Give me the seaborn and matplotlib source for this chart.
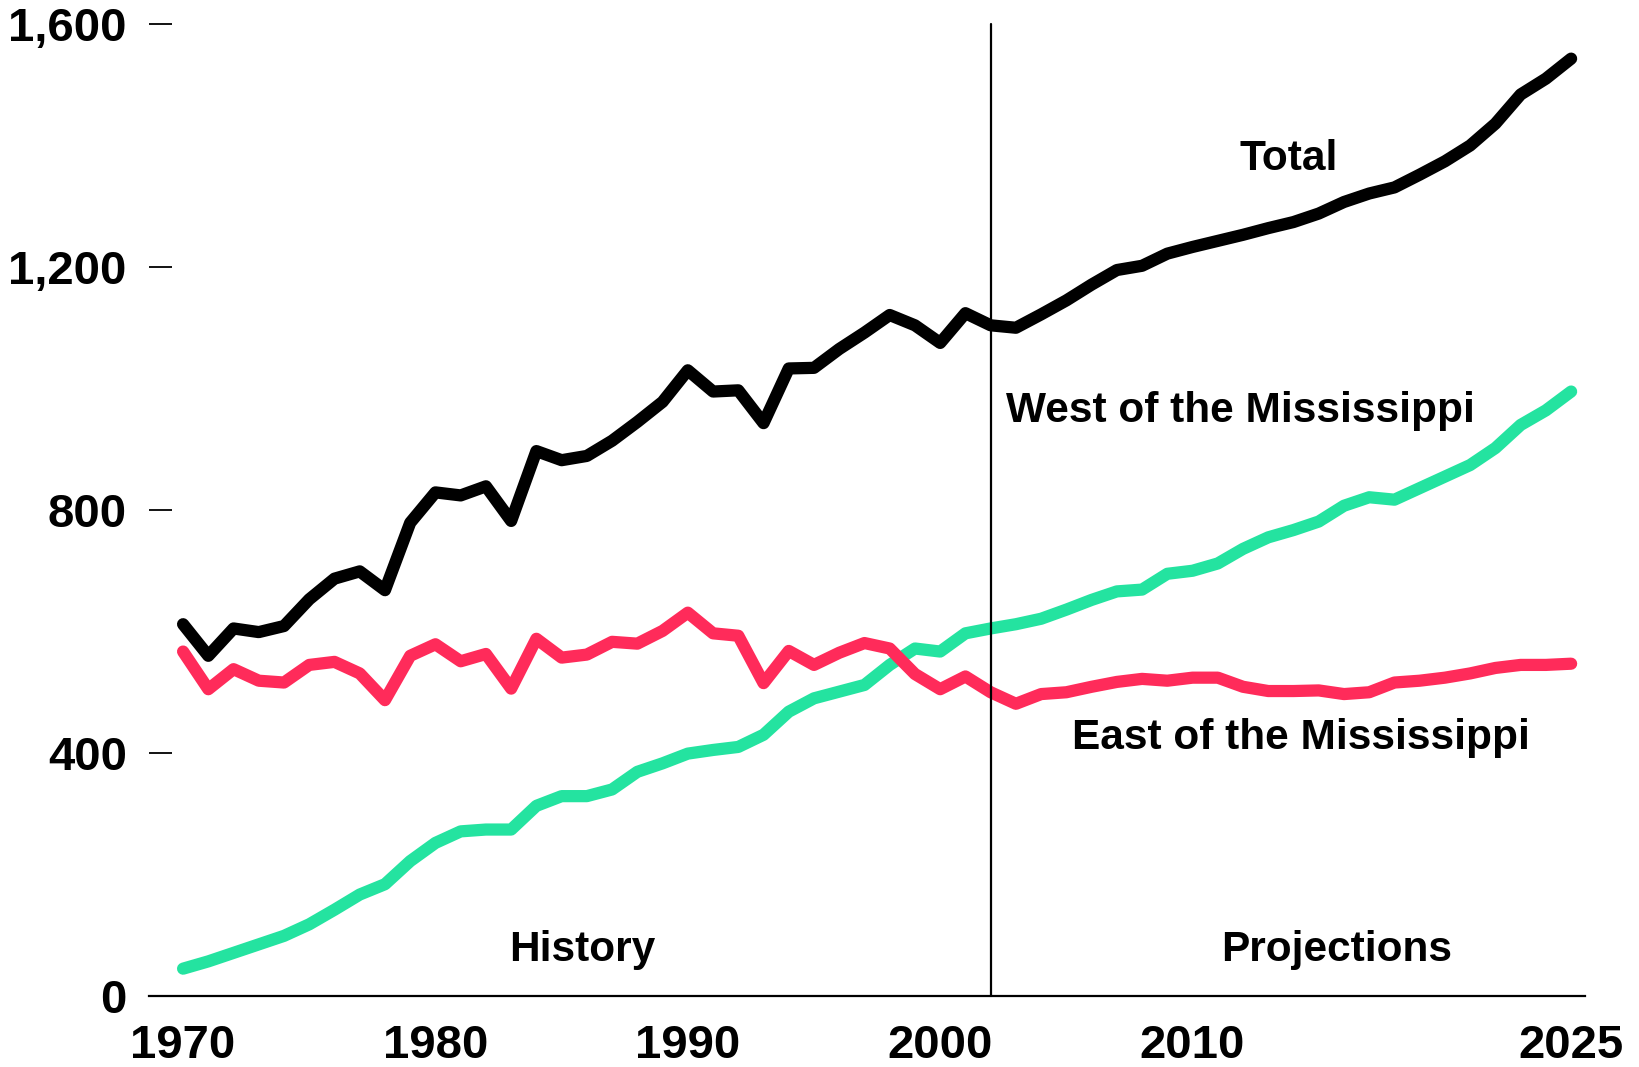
import numpy as np
import pandas as pd
import matplotlib
matplotlib.use("Agg")
import matplotlib.pyplot as plt
import seaborn as sns

years = list(range(1970, 2026))

total = [612, 560, 605, 599, 609, 653, 687, 699, 668, 779,
         829, 824, 839, 782, 897, 882, 889, 914, 945, 978,
         1030, 995, 997, 943, 1033, 1034, 1065, 1092, 1121, 1104,
         1075, 1124, 1104, 1100, 1122, 1145, 1171, 1195, 1202, 1222,
         1233, 1243, 1253, 1264, 1274, 1288, 1307, 1321, 1331, 1352,
         1374, 1400, 1436, 1484, 1510, 1543]

east = [567, 505, 538, 519, 516, 545, 550, 531, 487, 560,
        579, 551, 563, 506, 588, 557, 562, 583, 580, 601,
        631, 597, 593, 515, 568, 545, 565, 581, 572, 530,
        505, 526, 500, 481, 497, 500, 509, 517, 522, 519,
        524, 524, 509, 502, 502, 503, 497, 500, 516, 519,
        524, 531, 540, 545, 545, 547]

west = [45, 57, 71, 85, 99, 118, 142, 167, 184, 222,
        252, 271, 274, 274, 313, 329, 329, 340, 369, 383,
        399, 405, 410, 430, 468, 490, 501, 512, 545, 572,
        567, 597, 605, 612, 621, 636, 652, 666, 669, 695,
        700, 712, 736, 755, 767, 781, 807, 821, 817, 836,
        855, 874, 902, 940, 964, 995]

y_ticks = [0, 400, 800, 1200, 1600]
y_tick_labels = ["0", "400", "800", "1,200", "1,600"]
x_ticks = [1970, 1980, 1990, 2000, 2010, 2025]
x_tick_labels = ["1970", "1980", "1990", "2000", "2010", "2025"]
divider_year = 2002

df = pd.DataFrame({"year": years, "Total": total, "East": east, "West": west})

sns.set_theme(style="white")
plt.rcParams["font.family"] = ["Liberation Sans", "DejaVu Sans"]
plt.rcParams["font.weight"] = "bold"

fig = plt.figure(figsize=(16.4, 10.67), dpi=100)
ax = fig.add_axes([149 / 1640, 1 - 996 / 1067, (1585 - 149) / 1640, (996 - 24) / 1067])

GREEN = "#24e3a0"
PINK = "#ff2b5a"
line_kw = dict(linewidth=8.8, solid_capstyle="round", solid_joinstyle="round", clip_on=False)
sns.lineplot(data=df, x="year", y="West", ax=ax, color=GREEN, **line_kw)
sns.lineplot(data=df, x="year", y="East", ax=ax, color=PINK, **line_kw)
sns.lineplot(data=df, x="year", y="Total", ax=ax, color="black", **line_kw)

ax.plot([divider_year, divider_year], [0, 1600], color="black", linewidth=1.6, zorder=5, clip_on=False)

ax.set_xlim(1968.65, 2025.55)
ax.set_ylim(0, 1600)
ax.set_xlabel("")
ax.set_ylabel("")

for s in ["top", "right", "left"]:
    ax.spines[s].set_visible(False)
ax.spines["bottom"].set_color("black")
ax.spines["bottom"].set_linewidth(1.6)

ax.set_yticks(y_ticks)
ax.set_yticklabels(y_tick_labels)
ax.set_xticks(x_ticks)
ax.set_xticklabels(x_tick_labels)
ax.tick_params(axis="y", direction="in", length=16.5, width=1.3, color="black",
               pad=16, labelsize=34, labelcolor="black", left=True)
ax.tick_params(axis="x", length=0, pad=20, labelsize=34, labelcolor="black", bottom=True)
for lab in ax.get_xticklabels() + ax.get_yticklabels():
    lab.set_fontweight("bold")

tkw = dict(fontsize=30.5, fontweight="bold", color="black", ha="center", va="baseline")
ax.text(2013.8, 1360, "Total", **tkw)
ax.text(2011.9, 945, "West of the Mississippi", **tkw)
ax.text(2014.3, 406, "East of the Mississippi", **tkw)
ax.text(1985.8, 57, "History", **tkw)
ax.text(2015.7, 57, "Projections", **tkw)

fig.savefig("out.png", dpi=100, facecolor="white")
